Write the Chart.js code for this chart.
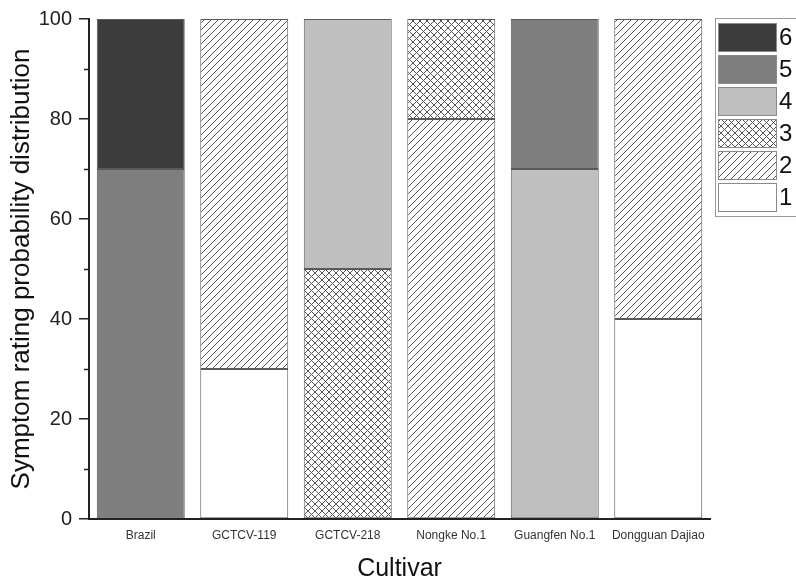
<!DOCTYPE html>
<html>
<head>
<meta charset="utf-8">
<title>Symptom rating probability distribution</title>
<script src="https://cdn.jsdelivr.net/npm/chart.js@4.4.0/dist/chart.umd.min.js"></script>
<style>
  html, body { margin: 0; padding: 0; background: #fff; }
  #wrap { width: 796px; height: 582px; }
</style>
</head>
<body>
<div id="wrap"><canvas id="ratingChart" width="796" height="582"></canvas></div>
<script>
// categories and series (percent of plants per symptom rating)
const cultivars = ['Brazil', 'GCTCV-119', 'GCTCV-218', 'Nongke No.1', 'Guangfen No.1', 'Dongguan Dajiao'];
const ratingLabels = ['1', '2', '3', '4', '5', '6'];
const rating1 = [null, 30, null, null, null, 40];
const rating2 = [null, 70, null, 80, null, 60];
const rating3 = [null, null, 50, 20, null, null];
const rating4 = [null, null, 50, null, 70, null];
const rating5 = [70, null, null, null, 30, null];
const rating6 = [30, null, null, null, null, null];
const yTicks = [0, 20, 40, 60, 80, 100];
const yMinorTicks = [10, 30, 50, 70, 90];

function makeHatch(cross) {
    const s = 7;
    const c = document.createElement('canvas');
    c.width = s; c.height = s;
    const g = c.getContext('2d');
    g.fillStyle = '#fff';
    g.fillRect(0, 0, s, s);
    g.strokeStyle = '#555';
    g.lineWidth = 1;
    g.beginPath();
    g.moveTo(-1, s + 1); g.lineTo(s + 1, -1);
    g.moveTo(-1, 1); g.lineTo(1, -1);
    g.moveTo(s - 1, s + 1); g.lineTo(s + 1, s - 1);
    if (cross) {
        g.moveTo(-1, -1); g.lineTo(s + 1, s + 1);
        g.moveTo(s - 1, -1); g.lineTo(s + 1, 1);
        g.moveTo(-1, s - 1); g.lineTo(1, s + 1);
    }
    g.stroke();
    return g.createPattern(c, 'repeat');
}

const ctx = document.getElementById('ratingChart').getContext('2d');
const fills = ['#ffffff', makeHatch(false), makeHatch(true), '#bfbfbf', '#7f7f7f', '#3c3c3c'];
const seriesValues = [rating1, rating2, rating3, rating4, rating5, rating6];

const datasets = seriesValues.map((vals, i) => ({
    label: ratingLabels[i],
    data: vals,
    backgroundColor: fills[i],
    borderColor: '#5a5a5a',
    borderWidth: 1,
    borderSkipped: false,
    barPercentage: 0.85,
    categoryPercentage: 1.0
}));

// minor ticks on y axis + boxed legend on the right
const extrasPlugin = {
    id: 'extras',
    afterDraw(chart) {
        const c = chart.ctx;
        const y = chart.scales.y;
        const left = chart.chartArea.left;
        c.save();
        c.strokeStyle = '#222';
        c.lineWidth = 1.5;
        yMinorTicks.forEach(v => {
            const py = Math.round(y.getPixelForValue(v)) + 0.5;
            c.beginPath();
            c.moveTo(left - 5, py);
            c.lineTo(left, py);
            c.stroke();
        });

        // legend
        c.strokeStyle = '#9a9a9a';
        c.lineWidth = 1;
        c.strokeRect(715.5, 18.5, 90, 198);
        c.font = '24px "Liberation Sans", Arial, sans-serif';
        c.textBaseline = 'middle';
        c.textAlign = 'left';
        const ds = chart.data.datasets;
        for (let k = 0; k < ds.length; k++) {
            const d = ds[ds.length - 1 - k];
            const top = 23 + k * 32;
            c.fillStyle = d.backgroundColor;
            c.fillRect(718, top, 59, 29);
            c.strokeStyle = '#8a8a8a';
            c.strokeRect(718.5, top + 0.5, 58, 28);
            c.fillStyle = '#111';
            c.fillText(d.label, 779, top + 15);
        }
        c.restore();
    }
};

new Chart(ctx, {
    type: 'bar',
    data: { labels: cultivars, datasets: datasets },
    options: {
        responsive: false,
        animation: false,
        layout: { padding: { top: 19, right: 86, left: 0, bottom: 0 } },
        plugins: {
            legend: { display: false },
            tooltip: { enabled: false }
        },
        scales: {
            x: {
                stacked: true,
                grid: { display: true, drawOnChartArea: false, drawTicks: false },
                border: { display: true, color: '#222', width: 2 },
                ticks: {
                    padding: 9,
                    color: '#333',
                    font: { family: '"Liberation Sans", Arial, sans-serif', size: 12 }
                },
                title: {
                    display: true,
                    text: 'Cultivar',
                    color: '#111',
                    padding: { top: 0, bottom: 0 },
                    font: { family: '"Liberation Sans", Arial, sans-serif', size: 25, lineHeight: 1.0 }
                },
                afterFit(scale) { scale.height = 63; }
            },
            y: {
                stacked: true,
                min: 0,
                max: 100,
                afterBuildTicks(scale) { scale.ticks = yTicks.map(v => ({ value: v })); },
                grid: { drawOnChartArea: false, drawTicks: true, tickLength: 10, tickColor: '#222', lineWidth: 1.5 },
                border: { display: true, color: '#222', width: 2 },
                ticks: {
                    padding: 7,
                    color: '#222',
                    font: { family: '"Liberation Sans", Arial, sans-serif', size: 20 }
                },
                title: {
                    display: true,
                    text: 'Symptom rating probability distribution',
                    color: '#111',
                    padding: { top: 6, bottom: 0 },
                    font: { family: '"Liberation Sans", Arial, sans-serif', size: 26, lineHeight: 1.2 }
                },
                afterFit(scale) { scale.width = 89; }
            }
        }
    },
    plugins: [extrasPlugin]
});
</script>
</body>
</html>
